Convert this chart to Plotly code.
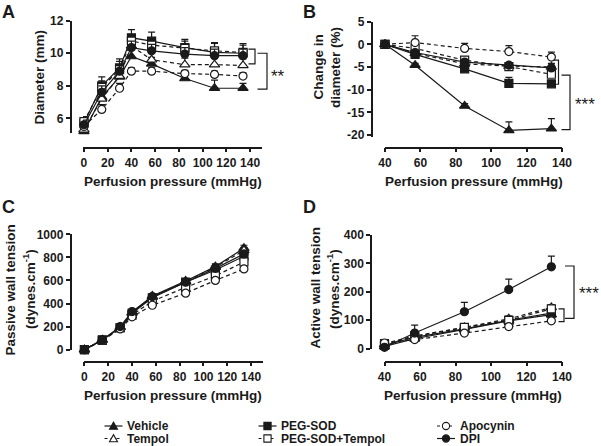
import plotly.graph_objects as go

W, H = 601, 446

# ---------------- data ----------------
groups = ["Vehicle", "Tempol", "PEG-SOD", "PEG-SOD+Tempol", "Apocynin", "DPI"]

pressure_full = [0, 15, 30, 40, 57, 85, 110, 134]
pressure_active = [40, 57, 85, 110, 134]

# Panel A: diameter (mm)
diam_vehicle = [5.2, 7.3, 8.55, 9.8, 9.35, 8.45, 7.85, 7.85]
diam_tempol = [5.3, 7.2, 8.6, 10.45, 9.6, 9.3, 9.3, 9.25]
diam_pegsod = [5.7, 8.0, 9.1, 10.95, 10.75, 10.35, 10.05, 10.0]
diam_pegsod_tempol = [5.8, 7.9, 9.0, 10.75, 10.5, 10.3, 10.15, 10.05]
diam_apocynin = [5.5, 6.55, 7.85, 8.9, 8.9, 8.75, 8.7, 8.6]
diam_dpi = [5.6, 7.6, 8.9, 10.35, 10.15, 9.95, 9.85, 9.85]

diam_err_vehicle = [0.3, 0.4, 0.4, 0.4, 0.4, 0.3, 0.5, 0.3]
diam_err_tempol = [0.3, 0.4, 0.4, 0.4, 0.4, 0.4, 0.4, 0.4]
diam_err_pegsod = [0.35, 0.55, 0.55, 0.5, 0.55, 0.5, 0.6, 0.6]
diam_err_pegsod_tempol = [0.3, 0.4, 0.5, 0.4, 0.4, 0.45, 0.45, 0.45]
diam_err_apocynin = [0.2, 0.3, 0.3, 0.2, 0.2, 0.2, 0.2, 0.2]
diam_err_dpi = [0.3, 0.4, 0.4, 0.4, 0.4, 0.4, 0.4, 0.4]

# Panel B: change in diameter (%)
change_vehicle = [0, -4.6, -13.6, -19.0, -18.6]
change_tempol = [0, -2.0, -4.3, -4.8, -5.0]
change_pegsod = [0, -2.2, -5.4, -8.6, -8.7]
change_pegsod_tempol = [0, -0.9, -3.5, -4.9, -6.6]
change_apocynin = [0, 0.4, -0.9, -1.6, -2.8]
change_dpi = [0, -1.8, -3.9, -4.6, -5.2]

change_err_vehicle = [0, 0.4, 0.5, 1.9, 2.2]
change_err_tempol = [0, 0.5, 0.6, 0.8, 0.8]
change_err_pegsod = [0, 0.5, 0.5, 1.3, 0.5]
change_err_pegsod_tempol = [0, 0.6, 0.7, 0.8, 0.8]
change_err_apocynin = [0, 1.5, 1.1, 1.3, 1.1]
change_err_dpi = [0, 0.5, 0.5, 0.6, 0.6]

# Panel C: passive wall tension (dynes.cm-1)
passive_vehicle = [0, 85, 195, 320, 465, 595, 720, 880]
passive_tempol = [0, 85, 195, 320, 455, 590, 715, 860]
passive_pegsod = [0, 85, 190, 315, 450, 585, 690, 810]
passive_pegsod_tempol = [0, 80, 190, 300, 420, 540, 640, 760]
passive_apocynin = [0, 80, 180, 285, 385, 490, 600, 700]
passive_dpi = [0, 85, 200, 330, 460, 585, 705, 830]

passive_err = [5, 10, 15, 20, 20, 20, 25, 25]

# Panel D: active wall tension (dynes.cm-1)
active_vehicle = [8, 35, 68, 98, 120]
active_tempol = [15, 42, 75, 105, 145]
active_pegsod = [12, 40, 70, 100, 125]
active_pegsod_tempol = [18, 45, 75, 100, 140]
active_apocynin = [20, 32, 55, 78, 98]
active_dpi = [5, 55, 130, 208, 288]

active_err_other = [4, 6, 8, 10, 10]
active_err_dpi = [5, 28, 33, 37, 38]

# tick labels
ticks_full = [0, 20, 40, 60, 80, 100, 120, 140]
ticks_active = [40, 60, 80, 100, 120, 140]
ticks_diam = [6, 8, 10, 12]
ticks_change = [5, 0, -5, -10, -15, -20]
ticks_change_text = ["5", "0", "-5", "-10", "-15", "-20"]
ticks_passive = [0, 200, 400, 600, 800, 1000]
ticks_active_y = [0, 100, 200, 300, 400]

# ---------------- styles ----------------
FONT = "Liberation Sans, Arial, sans-serif"
INK = "#1a1a1a"
style = {
    "Vehicle": dict(symbol="triangle-up", fill=INK, dash="solid"),
    "Tempol": dict(symbol="triangle-up", fill="white", dash="4px,3px"),
    "PEG-SOD": dict(symbol="square", fill=INK, dash="solid"),
    "PEG-SOD+Tempol": dict(symbol="square", fill="white", dash="4px,3px"),
    "Apocynin": dict(symbol="circle", fill="white", dash="4px,3px"),
    "DPI": dict(symbol="circle", fill=INK, dash="solid"),
}
msize = {"triangle-up": 9, "square": 8, "circle": 8}


def px(x):
    return x / W


def py(y):
    return 1 - y / H


fig = go.Figure()


def add_panel(xs, series, errs, xa, ya):
    for g, ys, er in zip(groups, series, errs):
        st = style[g]
        fig.add_trace(go.Scatter(
            x=xs, y=ys, mode="lines+markers", name=g, showlegend=False,
            xaxis=xa, yaxis=ya, cliponaxis=False,
            line=dict(color=INK, width=1.2, dash=st["dash"]),
            marker=dict(symbol=st["symbol"], size=msize[st["symbol"]], color=st["fill"],
                        line=dict(color=INK, width=1.2)),
            error_y=dict(type="data", symmetric=False, array=er, arrayminus=[0] * len(er),
                         width=3.5, thickness=1.2, color=INK),
        ))


add_panel(pressure_full,
          [diam_vehicle, diam_tempol, diam_pegsod, diam_pegsod_tempol, diam_apocynin, diam_dpi],
          [diam_err_vehicle, diam_err_tempol, diam_err_pegsod, diam_err_pegsod_tempol,
           diam_err_apocynin, diam_err_dpi], "x", "y")
add_panel(pressure_active,
          [change_vehicle, change_tempol, change_pegsod, change_pegsod_tempol, change_apocynin, change_dpi],
          [change_err_vehicle, change_err_tempol, change_err_pegsod, change_err_pegsod_tempol,
           change_err_apocynin, change_err_dpi], "x2", "y2")
add_panel(pressure_full,
          [passive_vehicle, passive_tempol, passive_pegsod, passive_pegsod_tempol, passive_apocynin, passive_dpi],
          [passive_err] * 6, "x3", "y3")
add_panel(pressure_active,
          [active_vehicle, active_tempol, active_pegsod, active_pegsod_tempol, active_apocynin, active_dpi],
          [active_err_other] * 5 + [active_err_dpi], "x4", "y4")

tickfont = dict(family=FONT, size=12, color=INK, weight="bold")


def axis(domain, rng, pos, tickvals, ticktext=None):
    d = dict(domain=domain, range=rng, anchor="free", position=pos,
             showline=True, linecolor=INK, linewidth=1.5,
             ticks="outside", ticklen=4, tickwidth=1.5, tickcolor=INK,
             showgrid=False, zeroline=False, tickvals=tickvals,
             tickfont=tickfont, automargin=False, fixedrange=True)
    if ticktext is not None:
        d["ticktext"] = ticktext
    return d


fig.update_layout(
    width=W, height=H,
    margin=dict(l=0, r=0, t=0, b=0),
    paper_bgcolor="white", plot_bgcolor="white",
    showlegend=False,
    xaxis=axis([px(83), px(262)], [-0.8, 150], py(147.5), ticks_full),
    yaxis=axis([py(133), py(20.7)], [5.1, 12], px(70.5), ticks_diam),
    xaxis2=axis([px(385), px(562)], [40, 140], py(147.5), ticks_active),
    yaxis2=axis([py(136.8), py(21.7)], [-20.4, 5], px(371.5), ticks_change, ticks_change_text),
    xaxis3=axis([px(83.5), px(263)], [-0.8, 150], py(361.6), ticks_full),
    yaxis3=axis([py(349.7), py(234.3)], [0, 1000], px(70.5), ticks_passive),
    xaxis4=axis([px(384.5), px(562)], [40, 140], py(361.6), ticks_active),
    yaxis4=axis([py(348.7), py(235)], [0, 400], px(371), ticks_active_y),
)

# ---------------- text ----------------
title_font = dict(family=FONT, size=13.5, color=INK, weight="bold")
ann = []


def text(x, y, s, font, angle=0, xanchor="center"):
    ann.append(dict(x=px(x), y=py(y), xref="paper", yref="paper", text=s, showarrow=False,
                    font=font, textangle=angle, xanchor=xanchor, yanchor="middle"))


for cx, cy in [(172.5, 181.7), (473.5, 181.7), (173, 395.8), (473, 395.8)]:
    text(cx, cy, "Perfusion pressure (mmHg)", title_font)

text(39, 77.5, "Diameter (mm)", title_font, -90)
text(318, 67.5, "Change in", title_font, -90)
text(335.5, 67.5, "diameter (%)", title_font, -90)
text(9.5, 290, "Passive wall tension", title_font, -90)
text(29, 289, "(dynes.cm<sup>-1</sup>)", title_font, -90)
text(315, 287.5, "Active wall tension", title_font, -90)
text(333, 289, "(dynes.cm<sup>-1</sup>)", title_font, -90)

letter_font = dict(family=FONT, size=18, color=INK, weight="bold")
for lx, ly, s in [(8.5, 11.7, "A"), (309, 11.7, "B"), (8.5, 207.5, "C"), (309.5, 207.5, "D")]:
    text(lx, ly, s, letter_font)

star_font = dict(family=FONT, size=17, color=INK)
text(278, 76, "**", star_font)
text(584.5, 104, "***", star_font)
text(589, 293, "***", star_font)

# ---------------- significance brackets ----------------
shapes = []


def bracket(x0, x1, y0, y1, yref):
    path = f"M{px(x0)},{y0} L{px(x1)},{y0} L{px(x1)},{y1} L{px(x0)},{y1}"
    shapes.append(dict(type="path", path=path, xref="paper", yref=yref,
                       line=dict(color=INK, width=1.2)))


bracket(248.5, 255, 10.25, 9.35, "y")
bracket(257.5, 267, 10.0, 7.8, "y")
bracket(553.5, 558.5, -3.5, -8.8, "y2")
bracket(561.5, 570, -6.8, -18.8, "y2")
bracket(558.5, 564, 140, 95, "y4")
bracket(565, 574, 291, 107, "y4")

# ---------------- legend (drawn as keys + labels) ----------------
legend_font = dict(family=FONT, size=12, color=INK, weight="bold")
legend_pos = {
    "Vehicle": (113.5, 426), "Tempol": (113.5, 438.5),
    "PEG-SOD": (267.5, 426), "PEG-SOD+Tempol": (267.5, 438.5),
    "Apocynin": (446, 426), "DPI": (446, 438.5),
}
for g in groups:
    cx, cy = legend_pos[g]
    st = style[g]
    shapes.append(dict(type="line", xref="paper", yref="paper",
                       x0=px(cx - 9), x1=px(cx + 9), y0=py(cy), y1=py(cy),
                       line=dict(color=INK, width=1.2,
                                 dash="solid" if st["dash"] == "solid" else "3px,3px")))
    r = 3.6
    if st["symbol"] == "triangle-up":
        p = (f"M{px(cx - 4)},{py(cy + 3.2)} L{px(cx + 4)},{py(cy + 3.2)} "
             f"L{px(cx)},{py(cy - 3.8)} Z")
        shapes.append(dict(type="path", path=p, xref="paper", yref="paper",
                           fillcolor=st["fill"], line=dict(color=INK, width=1.1)))
    elif st["symbol"] == "square":
        shapes.append(dict(type="rect", xref="paper", yref="paper",
                           x0=px(cx - r), x1=px(cx + r), y0=py(cy + r), y1=py(cy - r),
                           fillcolor=st["fill"], line=dict(color=INK, width=1.1)))
    else:
        shapes.append(dict(type="circle", xref="paper", yref="paper",
                           x0=px(cx - r), x1=px(cx + r), y0=py(cy + r), y1=py(cy - r),
                           fillcolor=st["fill"], line=dict(color=INK, width=1.1)))
    text(cx + 11.5, cy, g, legend_font, xanchor="left")

fig.update_layout(annotations=ann, shapes=shapes)
fig.write_html("out.html", config={"displayModeBar": False},
               post_script="document.body.style.margin='0';document.body.style.padding='0';")
